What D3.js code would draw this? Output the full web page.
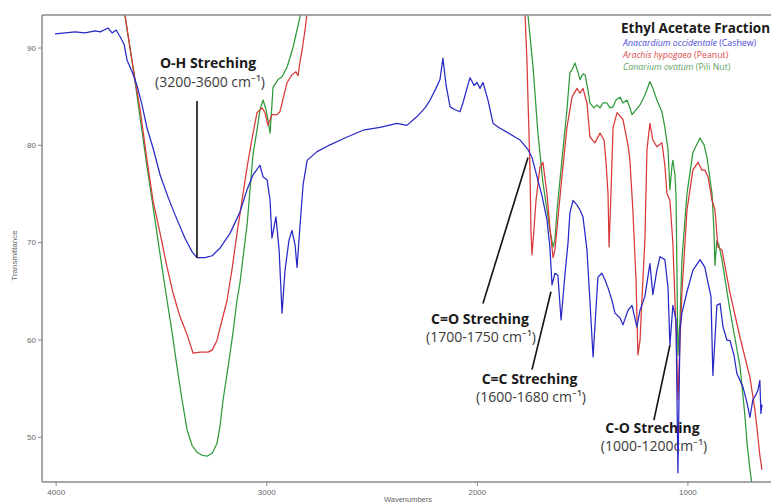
<!DOCTYPE html>
<html><head><meta charset="utf-8">
<script src="https://cdn.jsdelivr.net/npm/d3@7"></script>
<style>
html,body{margin:0;padding:0;background:#fff;}
svg{display:block;}
</style></head>
<body>
<svg id="chart" width="771" height="504"></svg>
<script>
// ---------- data (wavenumber cm-1, % transmittance) ----------
const cashew = [
[4003,91.4],[3955,91.5],[3908,91.6],[3860,91.5],[3813,91.7],[3789,91.6],[3751,92.0],[3732,91.5],[3713,91.8],[3694,91.1],
[3675,90.3],[3661,88.7],[3637,87.5],[3614,86.1],[3590,84.1],[3566,81.7],[3538,79.7],[3504,76.9],[3466,74.6],[3433,72.8],
[3386,70.4],[3352,69.0],[3329,68.4],[3291,68.4],[3257,68.6],[3219,69.4],[3172,70.9],[3125,73.1],[3091,75.4],[3063,76.9],
[3030,77.9],[3015,76.7],[2996,76.4],[2982,74.3],[2973,70.4],[2954,72.6],[2939,69.2],[2925,62.7],[2911,67.1],[2892,70.2],
[2878,71.2],[2863,69.7],[2854,67.4],[2840,71.6],[2825,75.9],[2806,78.4],[2759,79.3],[2697,80.0],[2616,80.8],[2540,81.5],
[2460,81.8],[2379,82.2],[2332,82.0],[2284,82.9],[2246,83.8],[2222,84.6],[2194,85.8],[2175,86.7],[2161,88.9],[2146,86.1],
[2127,83.9],[2104,83.6],[2080,83.4],[2066,84.3],[2047,85.8],[2032,86.9],[2013,86.1],[1999,86.4],[1985,85.8],[1971,86.4],
[1947,84.6],[1923,82.2],[1890,81.7],[1857,81.3],[1819,80.8],[1795,80.5],[1757,79.5],[1738,78.7],[1714,76.7],[1691,74.8],
[1667,72.3],[1653,69.5],[1643,65.6],[1629,66.8],[1615,66.6],[1600,62.0],[1581,66.8],[1567,69.9],[1558,73.0],[1543,74.3],
[1524,73.8],[1510,73.3],[1496,72.6],[1477,69.2],[1463,64.0],[1448,58.2],[1425,66.4],[1406,66.8],[1391,66.1],[1377,65.3],
[1358,64.0],[1344,62.7],[1320,62.2],[1306,61.5],[1282,63.0],[1263,63.5],[1240,61.3],[1225,63.0],[1202,64.4],[1178,67.8],
[1164,64.6],[1145,67.1],[1130,68.5],[1107,68.2],[1092,65.3],[1083,59.4],[1069,63.5],[1054,62.0],[1045,46.3],[1035,61.0],
[1026,62.7],[1002,64.9],[974,67.1],[940,68.2],[917,67.4],[902,65.8],[888,64.4],[879,56.3],[860,63.5],[845,63.7],
[831,61.3],[812,59.9],[798,59.9],[779,58.4],[765,56.5],[736,55.1],[717,53.5],[703,52.0],[689,53.8],[675,54.3],
[665,54.8],[656,55.8],[651,52.4],[646,53.3]
];
const peanut = [
[3690,94.9],[3671,93.3],[3633,88.0],[3599,83.6],[3566,78.4],[3538,74.3],[3504,70.9],[3471,67.4],[3443,64.8],[3409,62.3],
[3376,60.5],[3348,58.6],[3314,58.7],[3276,58.7],[3257,58.9],[3234,59.9],[3210,62.0],[3186,64.0],[3162,67.3],[3139,70.9],
[3115,74.3],[3091,77.7],[3067,80.7],[3044,83.3],[3020,83.8],[3006,83.3],[2992,82.0],[2973,83.1],[2949,83.1],[2935,83.4],
[2916,85.1],[2901,86.4],[2878,87.2],[2859,87.5],[2849,87.1],[2840,88.5],[2830,89.7],[2816,91.8],[2806,93.5],[2797,94.9],
null,
[1781,94.9],[1771,93.3],[1762,88.7],[1757,84.6],[1748,77.9],[1743,71.2],[1738,68.7],[1729,71.2],[1719,74.3],[1700,77.7],
[1686,78.2],[1667,75.0],[1653,71.5],[1638,68.4],[1629,69.2],[1619,71.5],[1596,76.7],[1572,81.8],[1548,84.9],[1524,85.8],
[1510,85.3],[1496,85.8],[1477,84.3],[1463,80.8],[1439,80.2],[1415,81.2],[1396,80.5],[1387,78.4],[1377,75.0],[1372,69.5],
[1363,75.0],[1353,81.8],[1334,83.3],[1306,82.6],[1282,80.0],[1273,78.4],[1259,73.3],[1244,66.1],[1235,58.4],[1225,59.9],
[1216,64.0],[1202,70.2],[1192,79.5],[1178,82.2],[1164,80.5],[1145,79.8],[1121,80.2],[1107,77.9],[1097,75.0],[1083,74.3],
[1069,69.9],[1054,61.0],[1045,53.8],[1035,59.9],[1026,64.8],[1002,73.3],[974,77.4],[950,78.2],[931,77.4],[917,77.4],
[902,76.7],[883,74.3],[869,73.3],[855,69.5],[836,69.2],[798,64.8],[750,60.2],[703,56.1],[679,52.7],[670,51.0],
[656,48.1],[646,46.6]
];
const pili = [
[3690,94.9],[3671,93.3],[3633,88.0],[3599,82.8],[3566,77.7],[3542,74.3],[3519,70.9],[3495,67.4],[3471,64.0],[3447,60.7],
[3424,57.2],[3400,53.8],[3376,50.7],[3352,49.1],[3329,48.4],[3305,48.1],[3281,48.0],[3257,48.3],[3234,49.3],[3219,51.2],
[3205,53.8],[3181,57.2],[3158,60.7],[3139,64.0],[3125,65.8],[3106,69.2],[3091,71.8],[3077,75.4],[3063,79.0],[3044,81.5],
[3030,83.6],[3015,84.6],[3001,83.6],[2992,82.6],[2982,81.2],[2973,84.1],[2968,85.9],[2944,86.7],[2925,87.0],[2901,88.0],
[2873,90.0],[2854,91.8],[2840,93.1],[2830,94.9],
null,
[1767,94.9],[1757,93.3],[1733,88.0],[1710,81.2],[1686,76.1],[1662,72.6],[1653,71.2],[1638,69.5],[1629,70.2],[1619,73.3],
[1596,78.4],[1572,83.6],[1558,87.4],[1548,87.7],[1534,88.4],[1520,87.5],[1510,86.7],[1496,87.3],[1486,87.2],[1472,85.6],
[1463,84.3],[1444,83.8],[1429,84.1],[1415,83.8],[1401,84.3],[1382,84.3],[1368,83.8],[1353,83.9],[1339,84.6],[1320,84.9],
[1306,84.3],[1287,84.6],[1273,83.8],[1263,83.1],[1244,83.6],[1225,84.1],[1202,85.1],[1178,86.5],[1164,85.8],[1145,84.6],
[1121,83.4],[1107,81.8],[1092,79.5],[1083,75.4],[1073,77.9],[1069,78.4],[1059,76.9],[1054,74.8],[1045,58.4],[1035,62.0],
[1026,68.2],[1002,75.0],[974,79.2],[940,80.7],[921,80.0],[907,78.7],[883,75.0],[874,71.2],[869,67.6],[860,70.2],
[850,69.7],[836,68.2],[798,63.0],[750,57.2],[727,52.2],[717,49.4],[703,46.6],[693,45.1],[684,43.5]
];
const xTicks = [4000, 3000, 2000, 1000];
const yTicks = [50, 60, 70, 80, 90];
const legendTitle = "Ethyl Acetate Fraction";
const legendItems = [
  {sci: "Anacardium occidentale", common: " (Cashew)"},
  {sci: "Arachis hypogaea", common: " (Peanut)"},
  {sci: "Canarium ovatum", common: " (Pili Nut)"}
];
const annotations = [
  {title: "O-H Streching", range: "(3200-3600 cm\u207B\u00B9)", from: [3329, 84.5], to: [3329, 68.4]},
  {title: "C=O Streching", range: "(1700-1750 cm\u207B\u00B9)", from: [1757, 78.7], to: [1971, 63.7]},
  {title: "C=C Streching", range: "(1600-1680 cm\u207B\u00B9)", from: [1648, 64.9], to: [1738, 56.9]},
  {title: "C-O Streching", range: "(1000-1200cm\u207B\u00B9)", from: [1083, 59.4], to: [1159, 51.7]}
];

// ---------- layout ----------
const svg = d3.select("#chart");
const L = 42, R = 771, T = 15, B = 482;
const x = d3.scaleLinear().domain([4065, 603]).range([L, R]);
const y = d3.scaleLinear().domain([45.35, 93.34]).range([B, T]);

svg.append("defs").append("clipPath").attr("id", "clip")
  .append("rect").attr("x", L).attr("y", T).attr("width", R - L).attr("height", B - T);

const line = d3.line().defined(d => d !== null).x(d => x(d[0])).y(d => y(d[1]));
const g = svg.append("g").attr("clip-path", "url(#clip)");
const series = [
  {data: pili, color: "#2f9a3a"},
  {data: peanut, color: "#d93838"},
  {data: cashew, color: "#2828c8"}
];
series.forEach(s => {
  g.append("path").datum(s.data).attr("d", line)
    .attr("fill", "none").attr("stroke", s.color).attr("stroke-width", 1.25)
    .attr("stroke-linejoin", "round");
});

// axes
const axisColor = "#8a8a8a";
const xAxis = svg.append("g").attr("transform", `translate(0,${B})`)
  .call(d3.axisBottom(x).tickValues(xTicks).tickSize(4).tickPadding(3).tickFormat(d3.format("d")));
const yAxis = svg.append("g").attr("transform", `translate(${L},0)`)
  .call(d3.axisLeft(y).tickValues(yTicks).tickSize(4).tickPadding(2).tickFormat(d3.format("d")));
[xAxis, yAxis].forEach(a => {
  a.select(".domain").remove();
  a.selectAll(".tick line").attr("stroke", axisColor);
  a.selectAll(".tick text").attr("fill", "#666").attr("font-family", "'Liberation Sans', Arial, sans-serif").attr("font-size", 8);
});
svg.append("line").attr("x1", L).attr("x2", L).attr("y1", T).attr("y2", B).attr("stroke", axisColor).attr("stroke-width", 1.5);
svg.append("line").attr("x1", L).attr("x2", R).attr("y1", B).attr("y2", B).attr("stroke", axisColor).attr("stroke-width", 1.5);
svg.append("line").attr("x1", L).attr("x2", R).attr("y1", T).attr("y2", T).attr("stroke", axisColor).attr("stroke-width", 1.5);

svg.append("text").attr("transform", `translate(17,${(T + B) / 2 + 7}) rotate(-90)`)
  .attr("text-anchor", "middle").attr("fill", "#666").attr("font-size", 8)
  .attr("font-family", "'Liberation Sans', Arial, sans-serif").text("Transmittance");
svg.append("text").attr("x", 408).attr("y", 502)
  .attr("text-anchor", "middle").attr("fill", "#666").attr("font-size", 7.5)
  .attr("font-family", "'Liberation Sans', Arial, sans-serif").text("Wavenumbers");

// annotations
const labelPos = [
  {tx: 208, ty: 68, rx: 210, ry: 86.5},
  {tx: 480, ty: 324, rx: 481, ry: 341.5},
  {tx: 529.5, ty: 384, rx: 531, ry: 401.5},
  {tx: 652.5, ty: 433.3, rx: 654, ry: 450.7}
];
annotations.forEach((a, i) => {
  svg.append("line")
    .attr("x1", x(a.from[0])).attr("y1", y(a.from[1]))
    .attr("x2", x(a.to[0])).attr("y2", y(a.to[1]))
    .attr("stroke", "#111").attr("stroke-width", 1.6);
  const p = labelPos[i];
  svg.append("text").attr("x", p.tx).attr("y", p.ty).attr("text-anchor", "middle")
    .attr("font-family", "'Open Sans', sans-serif").attr("font-weight", "bold")
    .attr("font-size", 14).attr("fill", "#1a1a1a").text(a.title);
  svg.append("text").attr("x", p.rx).attr("y", p.ry).attr("text-anchor", "middle")
    .attr("font-family", "'Open Sans', sans-serif")
    .attr("font-size", 14).attr("fill", "#3a3a3a").text(a.range);
});

// legend
svg.append("text").attr("x", 621).attr("y", 33)
  .attr("font-family", "'Open Sans', sans-serif").attr("font-weight", "bold")
  .attr("font-size", 13.5).attr("fill", "#1a1a1a").text(legendTitle);
const legendColors = ["#4a4ad8", "#dc4a4a", "#5f9f5f"];
legendItems.forEach((it, i) => {
  const t = svg.append("text").attr("x", 623).attr("y", 45.5 + i * 12)
    .attr("font-family", "'Open Sans', sans-serif").attr("font-size", 8.8)
    .attr("fill", legendColors[i]);
  t.append("tspan").attr("font-style", "italic").text(it.sci);
  t.append("tspan").text(it.common);
});
</script>
</body></html>
